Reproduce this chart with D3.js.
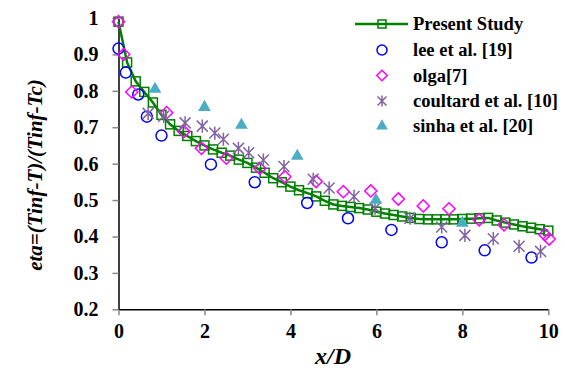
<!DOCTYPE html>
<html>
<head>
<meta charset="utf-8">
<script src="https://cdn.jsdelivr.net/npm/d3@7"></script>
<style>
  body { margin: 0; background: #fff; }
  svg text { font-family: "Liberation Serif", "DejaVu Serif", serif !important; font-weight: bold; }
</style>
</head>
<body>
<svg id="chart" width="565" height="374"></svg>
<script>
// present study (line + open squares)
var presentX = [0,0.2,0.4,0.6,0.8,1.0,1.2,1.4,1.6,1.8,2.0,2.2,2.4,2.6,2.8,3.0,3.2,3.4,3.6,3.8,4.0,4.2,4.4,4.6,4.8,5.0,
  5.2,5.4,5.6,5.8,6.0,6.2,6.4,6.6,6.8,7.0,7.2,7.4,7.6,7.8,8.0,8.2,8.4,8.6,8.8,9.0,9.2,9.4,9.6,9.8,10.0];
var presentY = [0.99,0.878,0.826,0.797,0.768,0.734,0.708,0.69,0.676,0.662,0.65,0.639,0.63,0.622,0.611,0.602,0.589,0.575,
  0.56,0.549,0.537,0.527,0.519,0.51,0.498,0.488,0.484,0.481,0.478,0.474,0.468,0.463,0.459,0.455,0.451,0.448,0.447,0.447,
  0.447,0.447,0.448,0.449,0.45,0.451,0.444,0.438,0.433,0.428,0.424,0.42,0.416];

var leeX = [0,0.17,0.46,0.66,1.0,2.15,3.17,4.39,5.34,6.35,7.52,8.52,9.61];
var leeY = [0.916,0.85,0.79,0.729,0.677,0.598,0.549,0.492,0.45,0.418,0.384,0.362,0.342];

var olgaX = [0,0.12,0.31,1.12,1.52,1.93,2.51,3.29,3.87,4.6,5.23,5.87,6.51,7.09,7.69,8.39,8.97,9.92,10.02];
var olgaY = [0.99,0.9,0.797,0.74,0.688,0.642,0.615,0.587,0.564,0.551,0.523,0.525,0.503,0.484,0.476,0.446,0.432,0.405,0.393];

var coultardX = [0.69,1.05,1.55,1.95,2.24,2.44,2.79,3.03,3.37,3.85,4.53,4.9,5.48,5.97,6.78,7.52,8.06,8.72,9.32,9.82];
var coultardY = [0.738,0.73,0.712,0.703,0.684,0.667,0.642,0.63,0.61,0.592,0.557,0.533,0.51,0.478,0.45,0.426,0.403,0.394,0.373,0.359];

var sinhaX = [0.85,2.0,2.86,4.16,5.99,8.0];
var sinhaY = [0.805,0.755,0.706,0.621,0.5,0.437];

var xTicks = [0,2,4,6,8,10];
var yTicks = [0.2,0.3,0.4,0.5,0.6,0.7,0.8,0.9,1];

var serif = "'Liberation Serif', 'DejaVu Serif', serif";
var svg = d3.select("#chart");
var x = d3.scaleLinear().domain([0,10]).range([118.5,548.3]);
var y = d3.scaleLinear().domain([0.2,1]).range([309.3,18]);

function zip(xs, ys) { return xs.map(function(v,i){ return [v, ys[i]]; }); }

// axes
var gx = svg.append("g").attr("transform","translate(0,"+y(0.2)+")")
  .call(d3.axisBottom(x).tickValues(xTicks).tickFormat(d3.format("d")).tickSize(6).tickSizeOuter(0).tickPadding(9));
var gy = svg.append("g").attr("transform","translate("+x(0)+",0)")
  .call(d3.axisLeft(y).tickValues(yTicks).tickFormat(function(d){ return d===1 ? "1" : d3.format(".1f")(d); })
  .tickSize(6).tickSizeOuter(0).tickPadding(14));
[gx, gy].forEach(function(g){
  g.attr("font-family", serif);
  g.select(".domain").attr("stroke","#000").attr("stroke-width",1.5);
  g.selectAll(".tick line").attr("stroke","#888").attr("stroke-width",1.5);
  g.selectAll(".tick text").attr("fill","#000").attr("font-size",20)
    .attr("font-family",serif).attr("font-weight","bold");
});

// axis titles
svg.append("text").attr("x",333).attr("y",364).attr("text-anchor","middle")
  .attr("font-family",serif).attr("font-size",24).attr("font-style","italic").text("x/D");
svg.append("text").attr("transform","translate(42,"+175+") rotate(-90)").attr("text-anchor","middle")
  .attr("font-family",serif).attr("font-size",21).attr("font-style","italic").text("eta=(Tinf-T)/(Tinf-Tc)");

// present study
var green = "#008000";
svg.append("path").datum(zip(presentX,presentY))
  .attr("d", d3.line().x(function(d){return x(d[0]);}).y(function(d){return y(d[1]);}))
  .attr("fill","none").attr("stroke",green).attr("stroke-width",2.5);
svg.selectAll(".sq").data(zip(presentX,presentY)).enter().append("rect")
  .attr("x",function(d){return x(d[0])-4.5;}).attr("y",function(d){return y(d[1])-4.5;})
  .attr("width",9).attr("height",9).attr("fill","none").attr("stroke",green).attr("stroke-width",1.5);

// lee
var blue = "#0000ff";
svg.selectAll(".lee").data(zip(leeX,leeY)).enter().append("circle")
  .attr("cx",function(d){return x(d[0]);}).attr("cy",function(d){return y(d[1]);})
  .attr("r",5.5).attr("fill","none").attr("stroke",blue).attr("stroke-width",1.5);

// olga
var magenta = "#ff00ff";
var diamond = d3.symbol().type(d3.symbolDiamond2).size(95);
svg.selectAll(".olga").data(zip(olgaX,olgaY)).enter().append("path")
  .attr("transform",function(d){return "translate("+x(d[0])+","+y(d[1])+")";})
  .attr("d",diamond).attr("fill","none").attr("stroke",magenta).attr("stroke-width",1.5);

// coultard
var purple = "#8064a2";
function starPath(s){
  return "M"+(-s)+","+(-s)+"L"+s+","+s+"M"+(-s)+","+s+"L"+s+","+(-s)+"M0,"+(-s*1.2)+"L0,"+(s*1.2);
}
svg.selectAll(".coul").data(zip(coultardX,coultardY)).enter().append("path")
  .attr("transform",function(d){return "translate("+x(d[0])+","+y(d[1])+")";})
  .attr("d",starPath(5.5)).attr("fill","none").attr("stroke",purple).attr("stroke-width",1.5);

// sinha
var teal = "#4bacc6";
var tri = d3.symbol().type(d3.symbolTriangle).size(70);
svg.selectAll(".sinha").data(zip(sinhaX,sinhaY)).enter().append("path")
  .attr("transform",function(d){return "translate("+x(d[0])+","+y(d[1])+")";})
  .attr("d",tri).attr("fill",teal);

// legend
var lg = svg.append("g").attr("transform","translate(382,0)");
var rows = [24,50,75.5,101,126];
var names = ["Present Study","lee et al. [19]","olga[7]","coultard et al. [10]","sinha et al. [20]"];
lg.append("line").attr("x1",-27).attr("x2",26).attr("y1",rows[0]).attr("y2",rows[0])
  .attr("stroke",green).attr("stroke-width",2.5);
lg.append("rect").attr("x",-4).attr("y",rows[0]-4).attr("width",8).attr("height",8)
  .attr("fill","none").attr("stroke",green).attr("stroke-width",1.5);
lg.append("circle").attr("cx",0).attr("cy",rows[1]).attr("r",5).attr("fill","none")
  .attr("stroke",blue).attr("stroke-width",1.5);
lg.append("path").attr("transform","translate(0,"+rows[2]+")").attr("d",d3.symbol().type(d3.symbolDiamond2).size(70))
  .attr("fill","none").attr("stroke",magenta).attr("stroke-width",1.5);
lg.append("path").attr("transform","translate(0,"+rows[3]+")").attr("d",starPath(4.5))
  .attr("fill","none").attr("stroke",purple).attr("stroke-width",1.5);
lg.append("path").attr("transform","translate(0,"+rows[4]+")").attr("d",d3.symbol().type(d3.symbolTriangle).size(60))
  .attr("fill",teal);
lg.selectAll(".lt").data(names).enter().append("text")
  .attr("x",31).attr("y",function(d,i){return rows[i]+6;})
  .attr("font-family",serif).attr("font-size",18.5).text(function(d){return d;});
</script>
</body>
</html>
